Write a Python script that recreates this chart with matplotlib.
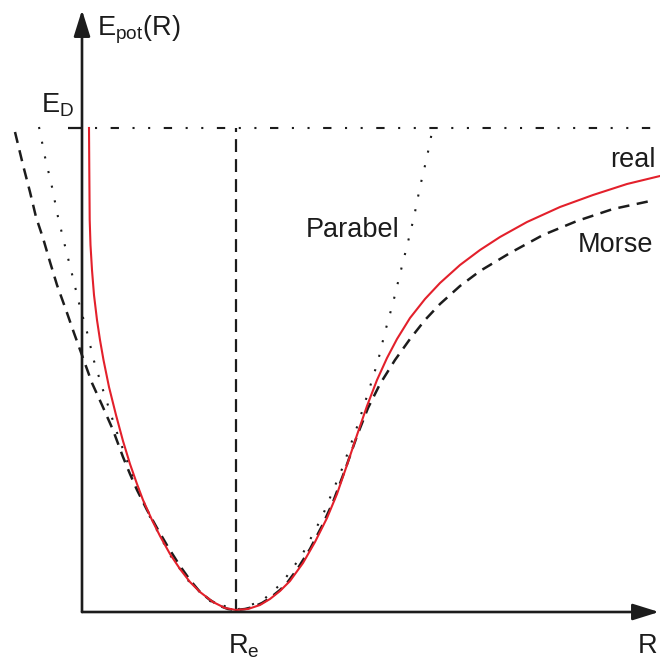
import matplotlib
matplotlib.use("Agg")
import matplotlib.pyplot as plt

plt.rcParams['font.family'] = ['Liberation Sans', 'DejaVu Sans']
plt.rcParams['mathtext.default'] = 'regular'

# energies in eV, distances in arbitrary units
E_D = 4.82
R_e = 2.36

# real potential curve
R_real = [0.89, 0.893, 0.897, 0.905, 0.92, 0.94, 0.97, 1.00, 1.035, 1.09,
          1.16, 1.23, 1.30, 1.37, 1.43, 1.52, 1.60, 1.70, 1.80, 1.90,
          2.00, 2.13, 2.25, 2.36, 2.48, 2.60, 2.70, 2.80, 2.90, 3.03,
          3.15, 3.27, 3.37, 3.47, 3.57, 3.67, 3.77, 3.87, 3.97, 4.10,
          4.25, 4.40, 4.60, 4.80, 5.00, 5.27, 5.60, 5.93, 6.27, 6.60]
E_real = [4.82, 4.40, 3.90, 3.65, 3.40, 3.15, 2.90, 2.70, 2.50, 2.23,
          1.95, 1.69, 1.46, 1.26, 1.10, 0.90, 0.74, 0.56, 0.41, 0.28,
          0.18, 0.08, 0.02, 0.00, 0.01, 0.05, 0.11, 0.19, 0.29, 0.47,
          0.68, 0.92, 1.16, 1.45, 1.75, 2.04, 2.30, 2.52, 2.71, 2.92,
          3.11, 3.27, 3.45, 3.60, 3.73, 3.88, 4.03, 4.15, 4.26, 4.34]

# Morse potential
R_morse = [0.15, 0.23, 0.30, 0.36, 0.43, 0.50, 0.57, 0.66, 0.74, 0.83,
           0.92, 1.02, 1.13, 1.23, 1.30, 1.37, 1.47, 1.57, 1.68, 1.80,
           1.90, 2.00, 2.10, 2.20, 2.28, 2.36, 2.45, 2.53, 2.62, 2.70,
           2.80, 2.87, 2.98, 3.10, 3.22, 3.33, 3.45, 3.57, 3.68, 3.80,
           3.95, 4.10, 4.25, 4.40, 4.60, 4.80, 5.10, 5.43, 5.77, 6.13, 6.55]
E_morse = [4.78, 4.45, 4.18, 3.93, 3.72, 3.48, 3.25, 3.00, 2.77, 2.52,
           2.27, 2.05, 1.80, 1.53, 1.36, 1.20, 1.00, 0.82, 0.63, 0.44,
           0.30, 0.18, 0.10, 0.04, 0.01, 0.00, 0.01, 0.03, 0.07, 0.12,
           0.20, 0.27, 0.42, 0.61, 0.84, 1.08, 1.40, 1.74, 2.02, 2.26,
           2.50, 2.71, 2.90, 3.06, 3.24, 3.39, 3.57, 3.75, 3.89, 4.01, 4.10]

# harmonic approximation (Parabel)
R_par = [0.39, 0.45, 0.52, 0.58, 0.65, 0.72, 0.79, 0.87, 0.94, 1.03, 1.15, 1.30,
         1.50, 1.70, 1.90, 2.10, 2.36, 2.62, 2.82, 3.02, 3.22, 3.42, 3.57, 3.69,
         3.78, 3.85, 3.93, 4.00, 4.07, 4.14, 4.20, 4.27, 4.33]
E_par = [4.83, 4.53, 4.23, 3.93, 3.64, 3.36, 3.07, 2.78, 2.49, 2.20, 1.83, 1.41,
         0.93, 0.55, 0.27, 0.09, 0.00, 0.09, 0.27, 0.55, 0.93, 1.41, 1.83, 2.20,
         2.49, 2.78, 3.07, 3.36, 3.64, 3.93, 4.23, 4.53, 4.83]

ink = '#1c1c1c'
fig = plt.figure(figsize=(6.6, 6.62), dpi=100)
ax = fig.add_axes([0, 0, 1, 1])
ax.set_xlim(0, 6.60)
ax.set_ylim(-0.52, 6.10)
ax.axis('off')

R0 = 0.82     # position of the energy axis
E0 = -0.02    # position of the distance axis

# dissociation energy level and equilibrium distance
ax.plot([0.68, R0], [E_D, E_D], color=ink, lw=1.6, solid_capstyle='butt')
ax.plot([0.95, 6.60], [E_D, E_D], color=ink, lw=1.5,
        linestyle=(0, (1, 6.5, 4, 6.5, 1, 6.5)))
ax.plot([R_e, R_e], [E0, E_D], color=ink, lw=1.6, linestyle=(0, (5.8, 3.2)))

ax.plot(R_par, E_par, color=ink, lw=1.5, linestyle=(0, (1, 6.2)))
ax.plot(R_morse, E_morse, color=ink, lw=1.8, linestyle=(0, (4.5, 3)))
ax.plot(R_real, E_real, color='#e3202b', lw=1.5)

# axes with arrow heads
arrow = dict(arrowstyle='-|>,head_length=0.8,head_width=0.25', color=ink,
             lw=1.9, mutation_scale=20, shrinkA=0, shrinkB=0)
ax.annotate('', xy=(R0, 6.00), xytext=(R0, E0), arrowprops=arrow)
ax.annotate('', xy=(6.59, E0), xytext=(R0, E0), arrowprops=arrow)

fs = 19.5
ax.text(0.97, 5.80, 'E$_{pot}$(R)', fontsize=fs, color=ink, va='center', ha='left')
ax.text(0.41, 4.97, 'E$_D$', fontsize=fs, color=ink, va='baseline', ha='left')
ax.text(2.28, -0.43, 'R$_e$', fontsize=fs, color=ink, va='baseline', ha='left')
ax.text(6.38, -0.43, 'R', fontsize=fs, color=ink, va='baseline', ha='left')
ax.text(3.06, 3.73, 'Parabel', fontsize=fs, color=ink, va='baseline', ha='left')
ax.text(6.10, 4.43, 'real', fontsize=fs, color=ink, va='baseline', ha='left')
ax.text(5.78, 3.58, 'Morse', fontsize=fs, color=ink, va='baseline', ha='left')

fig.savefig('out.png', dpi=100)
